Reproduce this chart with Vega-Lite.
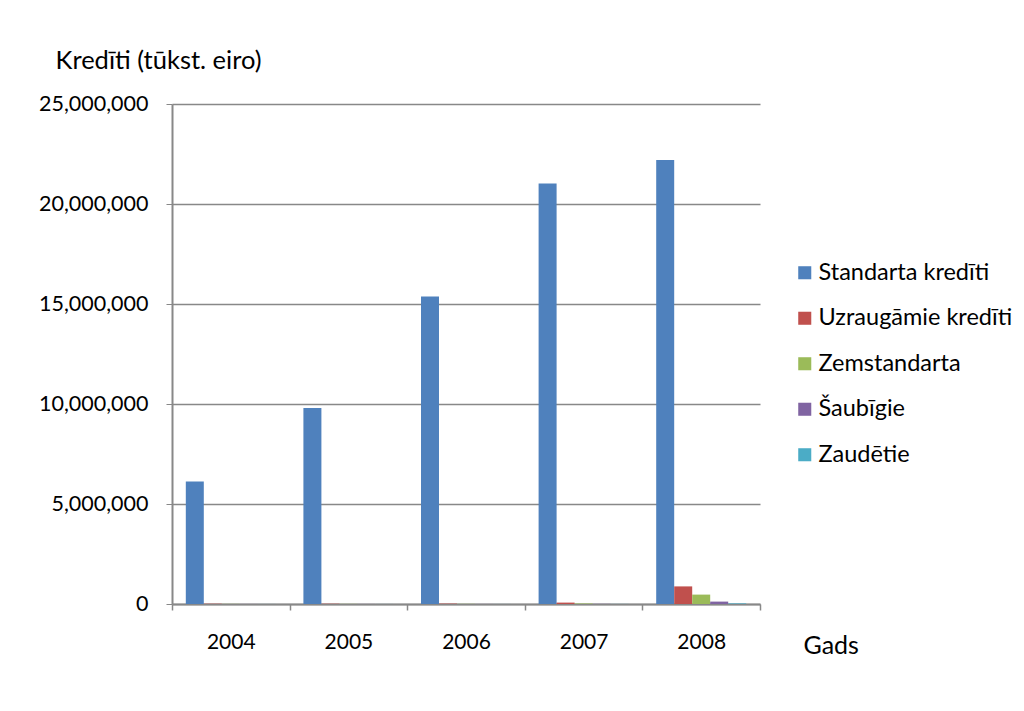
{
  "$schema": "https://vega.github.io/schema/vega-lite/v6.json",
  "autosize": {"type": "none"},
  "width": 588,
  "height": 500,
  "padding": {"left": 172, "top": 104, "right": 264, "bottom": 107},
  "background": "white",
  "data": {
    "values": [
      {"gads": "2004", "kategorija": "Standarta kredīti", "v": 6120000},
      {"gads": "2004", "kategorija": "Uzraugāmie kredīti", "v": 15000},
      {"gads": "2004", "kategorija": "Zemstandarta", "v": 6000},
      {"gads": "2004", "kategorija": "Šaubīgie", "v": 3000},
      {"gads": "2004", "kategorija": "Zaudētie", "v": 2000},
      {"gads": "2005", "kategorija": "Standarta kredīti", "v": 9800000},
      {"gads": "2005", "kategorija": "Uzraugāmie kredīti", "v": 15000},
      {"gads": "2005", "kategorija": "Zemstandarta", "v": 6000},
      {"gads": "2005", "kategorija": "Šaubīgie", "v": 3000},
      {"gads": "2005", "kategorija": "Zaudētie", "v": 2000},
      {"gads": "2006", "kategorija": "Standarta kredīti", "v": 15380000},
      {"gads": "2006", "kategorija": "Uzraugāmie kredīti", "v": 20000},
      {"gads": "2006", "kategorija": "Zemstandarta", "v": 8000},
      {"gads": "2006", "kategorija": "Šaubīgie", "v": 3000},
      {"gads": "2006", "kategorija": "Zaudētie", "v": 2000},
      {"gads": "2007", "kategorija": "Standarta kredīti", "v": 21030000},
      {"gads": "2007", "kategorija": "Uzraugāmie kredīti", "v": 70000},
      {"gads": "2007", "kategorija": "Zemstandarta", "v": 25000},
      {"gads": "2007", "kategorija": "Šaubīgie", "v": 8000},
      {"gads": "2007", "kategorija": "Zaudētie", "v": 4000},
      {"gads": "2008", "kategorija": "Standarta kredīti", "v": 22200000},
      {"gads": "2008", "kategorija": "Uzraugāmie kredīti", "v": 880000},
      {"gads": "2008", "kategorija": "Zemstandarta", "v": 470000},
      {"gads": "2008", "kategorija": "Šaubīgie", "v": 120000},
      {"gads": "2008", "kategorija": "Zaudētie", "v": 30000}
    ]
  },
  "mark": {"type": "bar"},
  "encoding": {
    "x": {
      "field": "gads",
      "type": "nominal",
      "scale": {"paddingInner": 0, "paddingOuter": 0},
      "axis": {
        "title": "Gads",
        "titleAngle": 0,
        "titleAlign": "left",
        "titleBaseline": "middle",
        "titleX": 631,
        "titleY": 41,
        "titleFont": "Lato",
        "titleFontSize": 25,
        "titleFontWeight": "normal",
        "titleColor": "#000000",
        "labelAngle": 0,
        "labelFont": "Lato",
        "labelFontSize": 21,
        "labelColor": "#000000",
        "labelPadding": 21,
        "tickBand": "extent",
        "tickSize": 6,
        "tickColor": "#888888",
        "domainColor": "#888888",
        "domainWidth": 2,
        "tickWidth": 1.5
      }
    },
    "xOffset": {
      "field": "kategorija",
      "type": "nominal",
      "sort": ["Standarta kredīti", "Uzraugāmie kredīti", "Zemstandarta", "Šaubīgie", "Zaudētie"],
      "scale": {"paddingInner": 0, "paddingOuter": 0.767}
    },
    "y": {
      "field": "v",
      "type": "quantitative",
      "scale": {"domain": [0, 25000000], "nice": false},
      "axis": {
        "title": "Kredīti (tūkst. eiro)",
        "titleAngle": 0,
        "titleAlign": "left",
        "titleBaseline": "middle",
        "titleX": -117,
        "titleY": -44,
        "titleFont": "Lato",
        "titleFontSize": 25.5,
        "titleFontWeight": "normal",
        "titleColor": "#000000",
        "values": [0, 5000000, 10000000, 15000000, 20000000, 25000000],
        "format": ",d",
        "labelFont": "Lato",
        "labelFontSize": 21.5,
        "labelColor": "#000000",
        "labelPadding": 18,
        "tickSize": 6,
        "tickColor": "#888888",
        "domainColor": "#888888",
        "domainWidth": 2,
        "grid": true,
        "gridColor": "#888888",
        "gridWidth": 1.5
      }
    },
    "color": {
      "field": "kategorija",
      "type": "nominal",
      "sort": ["Standarta kredīti", "Uzraugāmie kredīti", "Zemstandarta", "Šaubīgie", "Zaudētie"],
      "scale": {
        "domain": ["Standarta kredīti", "Uzraugāmie kredīti", "Zemstandarta", "Šaubīgie", "Zaudētie"],
        "range": ["#4F81BD", "#C0504D", "#9BBB59", "#8064A2", "#4BACC6"]
      },
      "legend": {
        "title": null,
        "orient": "none",
        "legendX": 621,
        "legendY": 157,
        "symbolType": "square",
        "symbolSize": 170,
        "symbolStrokeWidth": 0,
        "labelFont": "Lato",
        "labelFontSize": 23.5,
        "labelColor": "#000000",
        "labelLimit": 300,
        "rowPadding": 20.5,
        "labelOffset": 2
      }
    }
  },
  "config": {
    "view": {"stroke": null},
    "axis": {"gridDash": []}
  }
}
